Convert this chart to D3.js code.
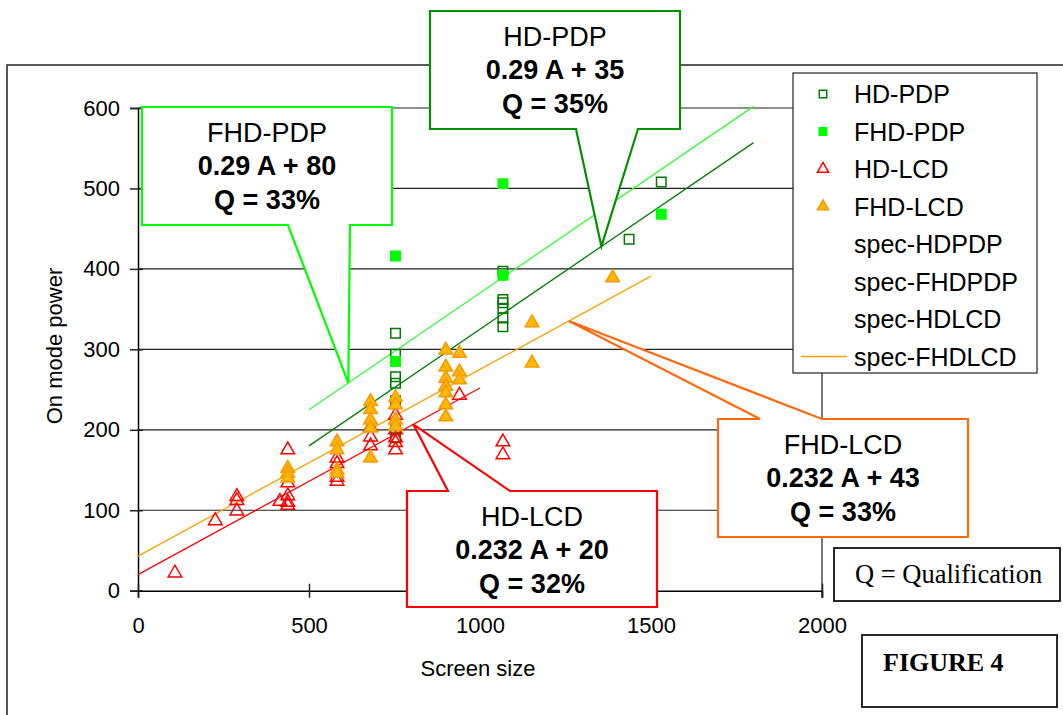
<!DOCTYPE html>
<html>
<head>
<meta charset="utf-8">
<script src="https://cdn.jsdelivr.net/npm/d3@7"></script>
<style>
    body { margin: 0; background: #fff; }
    svg { display: block; font-family: 'Liberation Sans', Arial, sans-serif; }
</style>
</head>
<body>
<svg id="figure4" width="1063" height="715"></svg>
<script>

// screen area (A) and on mode power
var hdPdpA = [753, 753, 753, 753, 753, 753, 753, 1067, 1067, 1067, 1067, 1067, 1067, 1436, 1530];
var hdPdpP = [320, 294, 266, 258, 236, 200, 190, 397, 362, 358, 351, 339, 328, 437, 508];

var fhdPdpA = [753, 753, 1067, 1067, 1530];
var fhdPdpP = [416, 285, 506, 392, 468];

var hdLcdA = [108, 226, 289, 289, 289, 415, 438, 438, 438, 438, 438, 582, 582, 582, 582, 680, 680, 680,
    753, 753, 753, 753, 753, 940, 1067, 1067];
var hdLcdP = [22, 87, 117, 112, 99, 111, 175, 134, 118, 110, 106, 165, 158, 141, 136, 203, 191, 180,
    218, 200, 190, 184, 175, 243, 185, 169];

var fhdLcdA = [438, 438, 438, 582, 582, 582, 582, 680, 680, 680, 680, 680, 753, 753, 753, 753,
    900, 900, 900, 900, 900, 900, 900, 940, 940, 940, 1152, 1152, 1388];
var fhdLcdP = [152, 146, 140, 185, 175, 150, 146, 235, 225, 212, 202, 165, 240, 231, 212, 204,
    299, 278, 264, 254, 246, 231, 216, 295, 272, 262, 333, 283, 389];

// spec lines: slope, intercept, A range
var specNames = ['spec-HDPDP', 'spec-FHDPDP', 'spec-HDLCD', 'spec-FHDLCD'];
var specSlope = [0.29, 0.29, 0.232, 0.232];
var specBase = [35, 80, 20, 43];
var specFrom = [500, 500, 0, 0];
var specTo = [1800, 1800, 1000, 1500];

var xTicks = [0, 500, 1000, 1500, 2000];
var yTicks = [0, 100, 200, 300, 400, 500, 600];

// callouts
var calloutTitle = ['HD-PDP', 'FHD-PDP', 'HD-LCD', 'FHD-LCD'];
var calloutFormula = ['0.29 A + 35', '0.29 A + 80', '0.232 A + 20', '0.232 A + 43'];
var calloutQ = ['Q = 35%', 'Q = 33%', 'Q = 32%', 'Q = 33%'];
var calloutAt = [1355, 615, 805, 1260];

var svg = d3.select('#figure4');

var x = d3.scaleLinear().domain([0, 2000]).range([138, 822]);
var y = d3.scaleLinear().domain([0, 600]).range([590.7, 108]);

// outer frame
svg.append('rect')
    .attr('x', 7).attr('y', 65)
    .attr('width', 1200).attr('height', 800)
    .attr('fill', 'none')
    .attr('stroke', '#222')
    .attr('stroke-width', 1.5);

// gridlines
svg.append('g').selectAll('line')
    .data(yTicks.slice(1))
    .enter().append('line')
    .attr('x1', x(0)).attr('x2', x(2000))
    .attr('y1', function(d) { return y(d); })
    .attr('y2', function(d) { return y(d); })
    .attr('stroke', '#222')
    .attr('stroke-width', 1.2);

// right edge line
svg.append('line')
    .attr('x1', x(2000)).attr('x2', x(2000))
    .attr('y1', y(600)).attr('y2', y(0) + 7)
    .attr('stroke', '#222')
    .attr('stroke-width', 1.2);

var yAxis = svg.append('g')
    .attr('transform', 'translate(' + x(0) + ',0)')
    .call(d3.axisLeft(y).tickValues(yTicks).tickSize(8).tickPadding(10));
yAxis.selectAll('.tick line').attr('x1', 5).attr('stroke', '#222').attr('stroke-width', 1.5);
yAxis.select('.domain').attr('stroke', '#000').attr('stroke-width', 1.5);
yAxis.selectAll('text').attr('font-size', 22).attr('font-family', 'Liberation Sans').attr('fill', '#000');

var xAxis = svg.append('g')
    .attr('transform', 'translate(0,' + y(0) + ')')
    .call(d3.axisBottom(x).tickValues(xTicks).tickFormat(d3.format('d')).tickSize(7).tickPadding(20));
xAxis.selectAll('.tick line').attr('y1', -7).attr('stroke', '#222').attr('stroke-width', 1.5);
xAxis.select('.domain').attr('stroke', '#000').attr('stroke-width', 1.5);
xAxis.selectAll('text').attr('font-size', 22).attr('font-family', 'Liberation Sans').attr('fill', '#000');

svg.append('text')
    .attr('x', 478).attr('y', 676)
    .attr('text-anchor', 'middle')
    .attr('font-size', 22)
    .text('Screen size');

svg.append('text')
    .attr('transform', 'translate(62,346) rotate(-90)')
    .attr('text-anchor', 'middle')
    .attr('font-size', 22)
    .text('On mode power');

// spec lines
var specColor = ['#008000', '#33ff33', '#ff0000', '#ffa000'];
specNames.forEach(function(name, i) {
    var ends = [specFrom[i], specTo[i]];
    svg.append('line')
        .attr('x1', x(ends[0])).attr('y1', y(specSlope[i] * ends[0] + specBase[i]))
        .attr('x2', x(ends[1])).attr('y2', y(specSlope[i] * ends[1] + specBase[i]))
        .attr('stroke', specColor[i])
        .attr('stroke-width', 1.3);
});

var sq = d3.symbol().type(d3.symbolSquare).size(90);
var tri = d3.symbol().type(d3.symbolTriangle).size(80);

function drawPoints(xs, ys, sym, fill, stroke) {
    svg.append('g').selectAll('path')
        .data(xs)
        .enter().append('path')
        .attr('transform', function(d, i) { return 'translate(' + x(d) + ',' + y(ys[i]) + ')'; })
        .attr('d', sym)
        .attr('fill', fill)
        .attr('stroke', stroke)
        .attr('stroke-width', 1.5);
}

drawPoints(hdPdpA, hdPdpP, sq, 'none', '#007a00');
drawPoints(fhdPdpA, fhdPdpP, sq, '#00ff00', '#00ff00');
drawPoints(hdLcdA, hdLcdP, tri, 'none', '#ff0000');
drawPoints(fhdLcdA, fhdLcdP, tri, '#ffb800', '#f59a00');

// callout boxes: [left, top, right, bottom], pointer base on top or bottom edge
var calloutBox = [[430, 11, 680, 129], [142, 107, 392, 225], [407, 491, 657, 607], [718, 419, 968, 537]];
var calloutBase = [[576, 638], [288, 350], [448, 510], [760, 822]];
var calloutColor = ['#009000', '#00ff00', '#ff0000', '#ff6a10'];

calloutTitle.forEach(function(t, i) {
    var b = calloutBox[i];
    var a = calloutAt[i];
    var tx = x(a);
    var ty = y(specSlope[i] * a + specBase[i]);
    var p = calloutBase[i];
    var path = d3.path();
    if (ty > b[3]) {
        path.moveTo(b[0], b[1]);
        path.lineTo(b[2], b[1]);
        path.lineTo(b[2], b[3]);
        path.lineTo(p[1], b[3]);
        path.lineTo(tx, ty);
        path.lineTo(p[0], b[3]);
        path.lineTo(b[0], b[3]);
    } else {
        path.moveTo(b[0], b[1]);
        path.lineTo(p[0], b[1]);
        path.lineTo(tx, ty);
        path.lineTo(p[1], b[1]);
        path.lineTo(b[2], b[1]);
        path.lineTo(b[2], b[3]);
        path.lineTo(b[0], b[3]);
    }
    path.closePath();
    svg.append('path')
        .attr('d', path.toString())
        .attr('fill', '#fff')
        .attr('stroke', calloutColor[i])
        .attr('stroke-width', 2.2)
        .attr('stroke-linejoin', 'miter');

    var cx = (b[0] + b[2]) / 2;
    var lines = [t, calloutFormula[i], calloutQ[i]];
    lines.forEach(function(s, j) {
        svg.append('text')
            .attr('x', cx)
            .attr('y', b[1] + 25 + j * 33.5)
            .attr('dy', '0.36em')
            .attr('text-anchor', 'middle')
            .attr('font-size', 27)
            .attr('font-weight', j === 0 ? 'normal' : 'bold')
            .text(s);
    });
});

// legend
var legendNames = ['HD-PDP', 'FHD-PDP', 'HD-LCD', 'FHD-LCD'].concat(specNames);
var legend = svg.append('g');
legend.append('rect')
    .attr('x', 793).attr('y', 73)
    .attr('width', 244).attr('height', 300)
    .attr('fill', '#fff')
    .attr('stroke', '#222')
    .attr('stroke-width', 1.2);

var legendSym = [
    { fill: 'none', stroke: '#007a00' },
    { fill: '#00ff00', stroke: '#00ff00' },
    { fill: 'none', stroke: '#ff0000' },
    { fill: '#ffb800', stroke: '#f59a00' },
];

legendNames.forEach(function(name, i) {
    var ly = 94 + i * 37.5;
    if (i < 4) {
        legend.append('path')
            .attr('transform', 'translate(823,' + ly + ')')
            .attr('d', d3.symbol().type(i < 2 ? d3.symbolSquare : d3.symbolTriangle).size(55))
            .attr('fill', legendSym[i].fill)
            .attr('stroke', legendSym[i].stroke)
            .attr('stroke-width', 1.5);
    }
    if (name === 'spec-FHDLCD') {
        legend.append('line')
            .attr('x1', 801).attr('x2', 847)
            .attr('y1', ly).attr('y2', ly)
            .attr('stroke', specColor[3])
            .attr('stroke-width', 1.3);
    }
    legend.append('text')
        .attr('x', 854).attr('y', ly)
        .attr('dy', '0.36em')
        .attr('font-size', 25)
        .text(name);
});

// note boxes
svg.append('rect')
    .attr('x', 834).attr('y', 548)
    .attr('width', 226).attr('height', 53)
    .attr('fill', '#fff')
    .attr('stroke', '#111')
    .attr('stroke-width', 1.8);
svg.append('text')
    .attr('x', 855).attr('y', 583)
    .attr('font-family', 'Liberation Serif, Times New Roman, serif')
    .attr('font-size', 26.5)
    .text('Q = Qualification');

svg.append('rect')
    .attr('x', 862).attr('y', 635)
    .attr('width', 195).attr('height', 72)
    .attr('fill', '#fff')
    .attr('stroke', '#111')
    .attr('stroke-width', 1.8);
svg.append('text')
    .attr('x', 883).attr('y', 671)
    .attr('font-family', 'Liberation Serif, Times New Roman, serif')
    .attr('font-weight', 'bold')
    .attr('font-size', 26)
    .text('FIGURE 4');

</script>
</body>
</html>
